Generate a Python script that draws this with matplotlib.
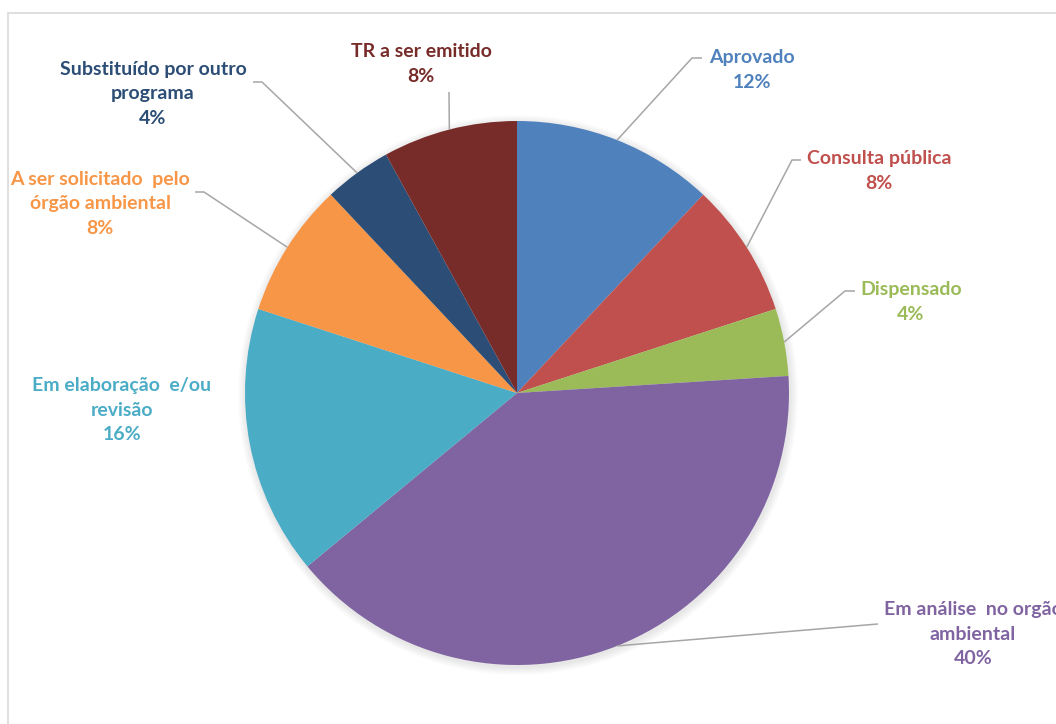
import matplotlib.pyplot as plt
from matplotlib.patches import Circle, Rectangle
import numpy as np

W, H = 1056, 724

categories = [
    "Aprovado",
    "Consulta pública",
    "Dispensado",
    "Em análise  no orgão\nambiental",
    "Em elaboração  e/ou\nrevisão",
    "A ser solicitado  pelo\nórgão ambiental",
    "Substituído por outro\nprograma",
    "TR a ser emitido",
]
shares = [12, 8, 4, 40, 16, 8, 4, 8]
colors = ["#4F81BD", "#C0504D", "#9BBB59", "#8064A2",
          "#4BACC6", "#F79646", "#2C4D75", "#772C2A"]

# label centre (px, image coords) and leader elbow point; None = no leader
label_pos = [(752, 70), (879, 171), (911, 302), (973, 634),
             (122, 410), (100, 204), (153, 94), (421, 64)]
elbows = [((702, 58), (692, 58)), ((801, 160), (792, 160)),
          ((855, 291), (845, 291)), ((878, 624), (878, 624)),
          None, ((195, 192), (204, 192)), ((253, 82), (262, 82)),
          ((449, 92), (449, 92))]

CX, CY, R = 517, 393, 272


def py(y):
    return H - y


fig = plt.figure(figsize=(W / 100, H / 100), dpi=100)
ax = fig.add_axes([0, 0, 1, 1])
ax.set_xlim(0, W)
ax.set_ylim(0, H)
ax.axis("off")

ax.add_patch(Rectangle((8, -20), W + 40, py(13) + 20, fill=False,
                       edgecolor="#D9D9D9", linewidth=1.2))

# soft shadow
for k in range(8):
    ax.add_patch(Circle((CX + 1, py(CY) - 2), R + 8 - k, color="#000000",
                        alpha=0.012, linewidth=0))

wedges, _ = ax.pie(shares, colors=colors, startangle=90, counterclock=False,
                   radius=R, center=(CX, py(CY)),
                   wedgeprops=dict(linewidth=0))
ax.set_xlim(0, W)
ax.set_ylim(0, H)
ax.set_aspect("equal")

for w, label, share, color, pos, elb in zip(wedges, categories, shares,
                                            colors, label_pos, elbows):
    ang = np.deg2rad((w.theta1 + w.theta2) / 2)
    ex, ey = CX + R * np.cos(ang), py(CY) + R * np.sin(ang)
    if elb is not None:
        (x1, y1), (x2, y2) = elb
        ax.plot([x1, x2, ex], [py(y1), py(y2), ey], color="#A6A6A6",
                linewidth=1.1, solid_capstyle="butt", zorder=1)
    ax.text(pos[0], py(pos[1]), f"{label}\n{share}%", ha="center",
            va="center", color=color, fontsize=14, fontweight="bold",
            family="Lato", linespacing=1.55)

fig.savefig("out.png", dpi=100)
